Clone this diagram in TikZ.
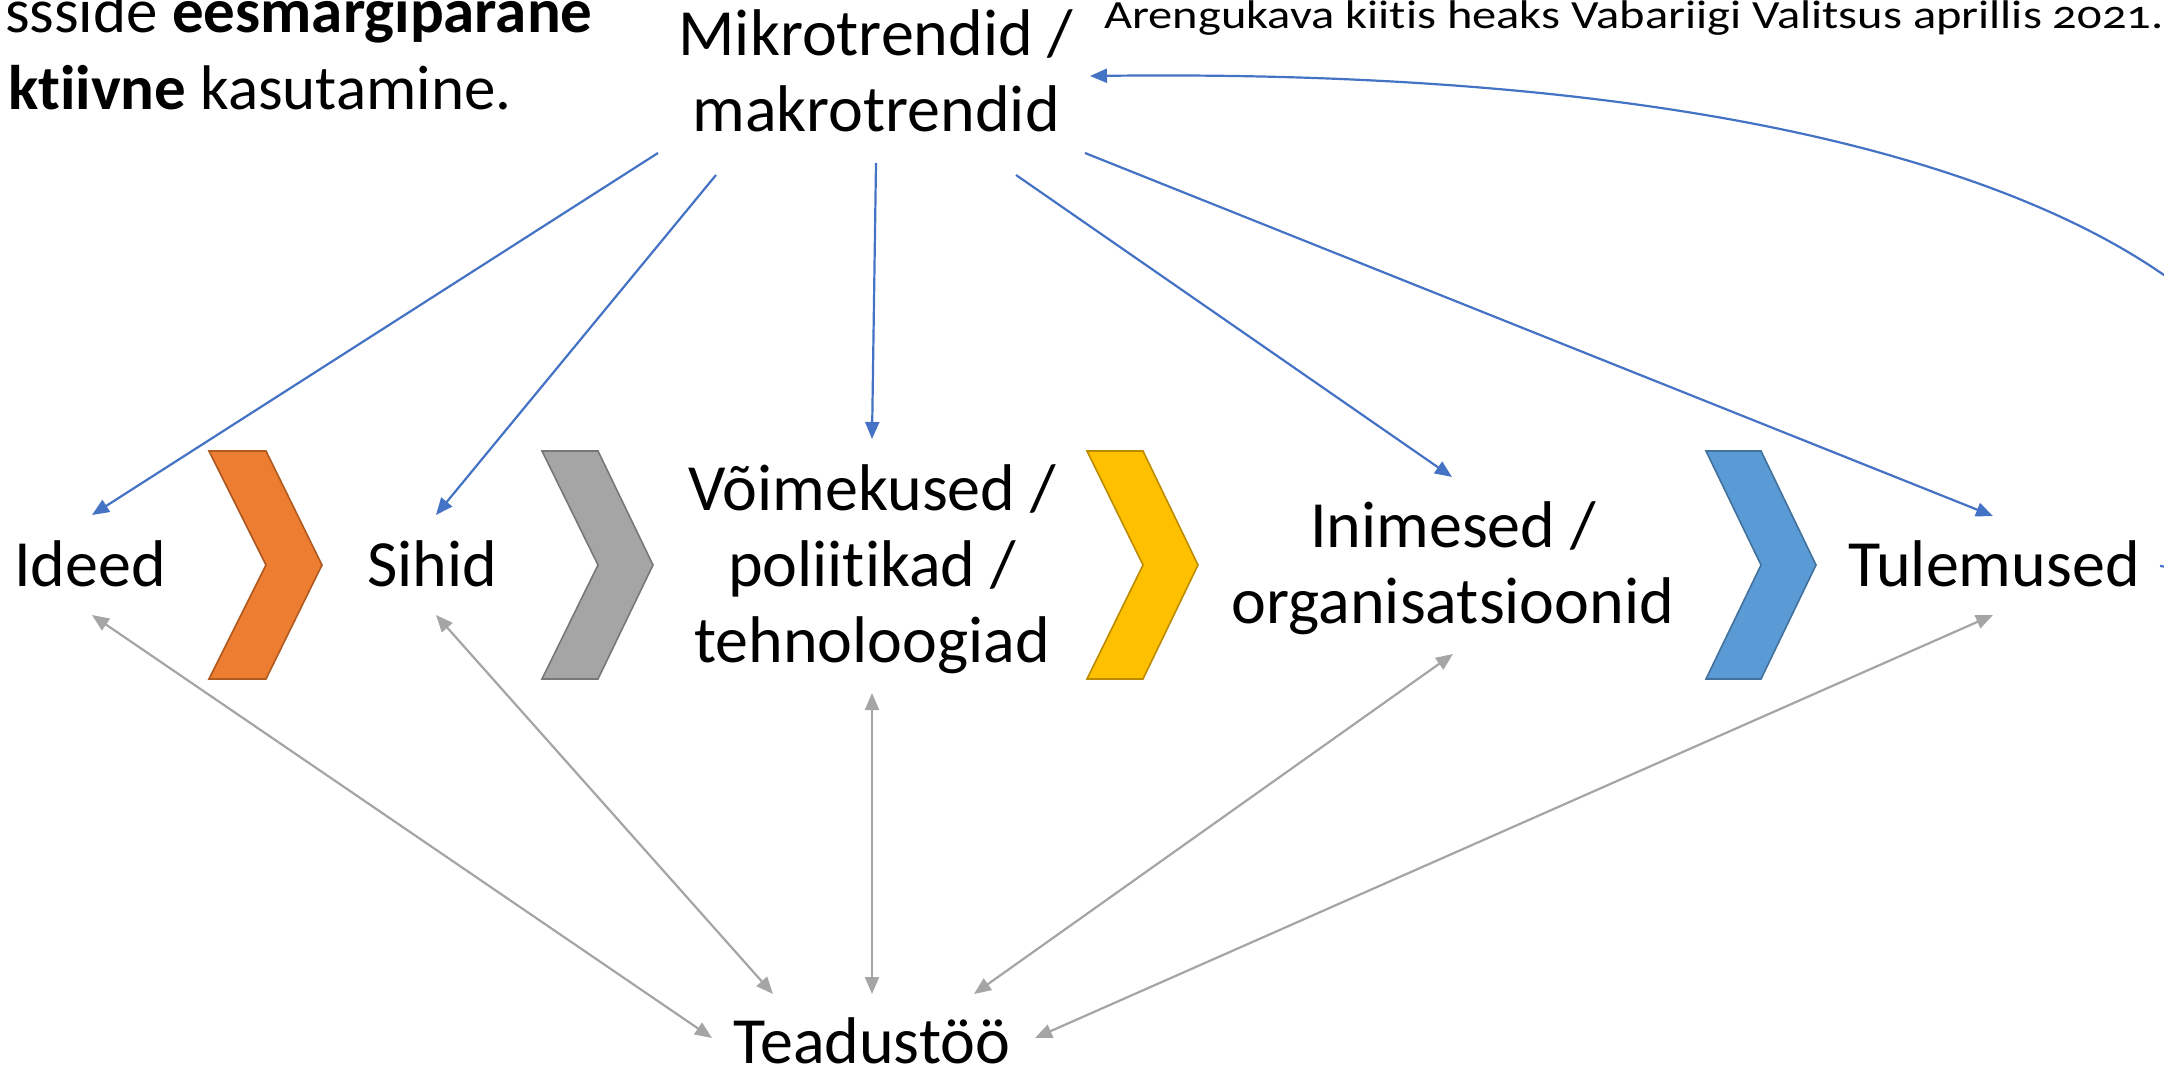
\documentclass[tikz,border=0pt]{standalone}
\usepackage{fontspec}
\setmainfont{Carlito}[Ligatures=NoCommon]
\newfontfamily\widefont[FakeStretch=1.212,Numbers=OldStyle,Ligatures=NoCommon]{Carlito}
\usetikzlibrary{arrows.meta}
\definecolor{linkblue}{HTML}{4472C4}
\definecolor{linkgray}{HTML}{A5A5A5}
\definecolor{orfill}{HTML}{ED7D31}
\definecolor{ordraw}{HTML}{AE5A21}
\definecolor{grfill}{HTML}{A5A5A5}
\definecolor{grdraw}{HTML}{787878}
\definecolor{yefill}{HTML}{FFC000}
\definecolor{yedraw}{HTML}{BC8C00}
\definecolor{blfill}{HTML}{5B9BD5}
\definecolor{bldraw}{HTML}{41719C}
\begin{document}
\begin{tikzpicture}[x=0.5pt,y=-0.5pt,
  lbl/.style={inner sep=0pt, font=\fontsize{33pt}{38pt}\selectfont, align=center, anchor=base},
  introtxt/.style={inner sep=0pt, font=\fontsize{31.5pt}{38pt}\selectfont, anchor=base east},
  bluearr/.style={draw=linkblue, line width=1.1pt, -{Triangle[length=8.5pt,width=7pt]}},
  grayarr/.style={draw=linkgray, line width=1.1pt, {Triangle[length=8.5pt,width=7pt]}-{Triangle[length=8.5pt,width=7pt]}},
  chev/.style={line width=0.8pt, line join=miter}]
\useasboundingbox (0,0) rectangle (2164,1069);

% chevrons
\filldraw[chev, fill=orfill, draw=ordraw] (209,451) -- (266,451) -- (322,565) -- (266,679) -- (209,679) -- (266,565) -- cycle;
\filldraw[chev, fill=grfill, draw=grdraw] (542,451) -- (598,451) -- (653,565) -- (598,679) -- (542,679) -- (598,565) -- cycle;
\filldraw[chev, fill=yefill, draw=yedraw] (1087,451) -- (1143,451) -- (1198,565) -- (1143,679) -- (1087,679) -- (1143,565) -- cycle;
\filldraw[chev, fill=blfill, draw=bldraw] (1706,451) -- (1761,451) -- (1816,565) -- (1761,679) -- (1706,679) -- (1761,565) -- cycle;

% texts
\node[introtxt] (introa) at (593,33) {ssside \textbf{eesmargiparane}};
\node[introtxt] (introb) at (512,110) {\textbf{ktiivne} kasutamine.};
\node[inner sep=0pt, anchor=base west, font=\widefont\fontsize{20pt}{24pt}\selectfont] (note) at (1104,29)
  {Arengukava kiitis heaks Vabariigi Valitsus aprillis 2021.};

\node[lbl] (mikro) at (876,132) {Mikrotrendid /\\makrotrendid};
\node[lbl] (ideed) at (90,587) {Ideed};
\node[lbl] (sihid) at (432,587) {Sihid};
\node[lbl] (voime) at (872,662) {Võimekused /\\poliitikad /\\tehnoloogiad};
\node[lbl] (inim) at (1453,623) {Inimesed /\\organisatsioonid};
\node[lbl] (tul) at (1994,587) {Tulemused};
\node[lbl] (tead) at (872,1063) {Teadustöö};

% blue arrows
\draw[bluearr] ([shift={(-218,21)}]mikro.base) -- ([shift={(2,-72)}]ideed.base);
\draw[bluearr] ([shift={(-160,43)}]mikro.base) -- ([shift={(4,-72)}]sihid.base);
\draw[bluearr] ([shift={(0,31)}]mikro.base) -- ([shift={(0,-223)}]voime.base);
\draw[bluearr] ([shift={(140,43)}]mikro.base) -- ([shift={(-1,-146)}]inim.base);
\draw[bluearr] ([shift={(209,21)}]mikro.base) -- ([shift={(-1,-71)}]tul.base);
\draw[bluearr] ([shift={(166,-21)}]tul.base) .. controls (2400,600) and (2450,60) .. ([shift={(214,-56)}]mikro.base);

% gray arrows
\draw[grayarr] ([shift={(2,28)}]ideed.base) -- ([shift={(-160,-25)}]tead.base);
\draw[grayarr] ([shift={(4,28)}]sihid.base) -- ([shift={(-99,-69)}]tead.base);
\draw[grayarr] ([shift={(0,31)}]voime.base) -- ([shift={(0,-69)}]tead.base);
\draw[grayarr] ([shift={(0,31)}]inim.base) -- ([shift={(102,-69)}]tead.base);
\draw[grayarr] ([shift={(-1,28)}]tul.base) -- ([shift={(163,-25)}]tead.base);
\end{tikzpicture}
\end{document}
